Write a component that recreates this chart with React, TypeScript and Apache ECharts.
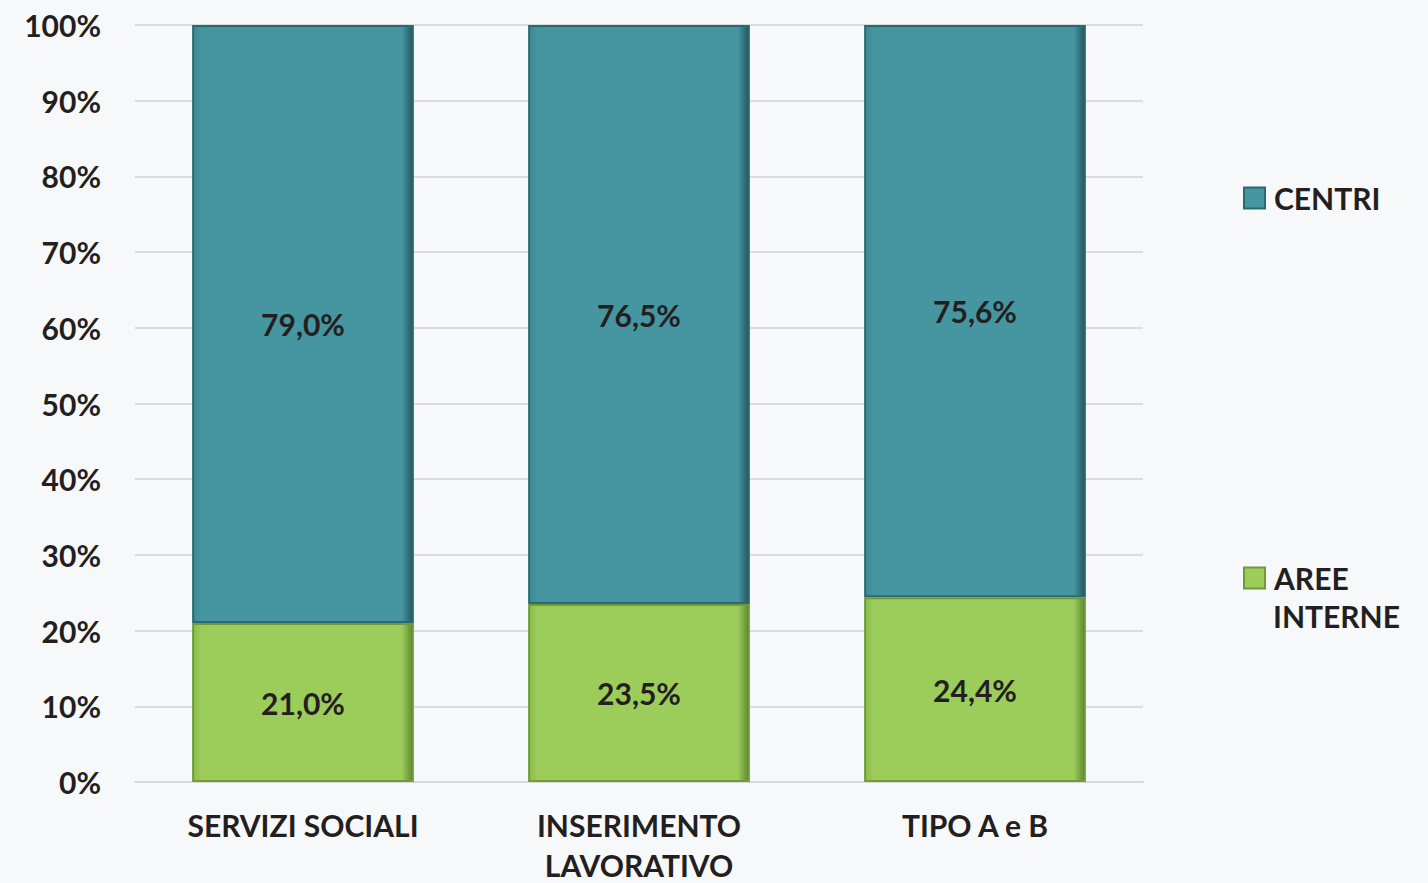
import React, { useEffect, useRef } from "react";
import * as echarts from "echarts";

const categories = ["SERVIZI SOCIALI", "INSERIMENTO\nLAVORATIVO", "TIPO A e B"];
const areeInterne = [21.0, 23.5, 24.4];
const centri = [79.0, 76.5, 75.6];
const yTicks = [0, 10, 20, 30, 40, 50, 60, 70, 80, 90, 100];

const FONT = "Lato";
const TEXT = "#231f20";
const FS = 30;

const fmt = (v: number) => v.toFixed(1).replace(".", ",") + "%";

const hGrad = (edge: string, mid: string, dark: string) =>
  new echarts.graphic.LinearGradient(0, 0, 1, 0, [
    { offset: 0, color: edge },
    { offset: 0.04, color: mid },
    { offset: 0.95, color: mid },
    { offset: 1, color: dark },
  ]);

export default function App() {
  const ref = useRef<HTMLDivElement>(null);
  useEffect(() => {
    if (!ref.current) return;
    const chart = echarts.init(ref.current, null, { renderer: "svg" });
    const labelStyle = {
      show: true,
      position: "inside",
      fontFamily: FONT,
      fontWeight: "bold",
      fontSize: FS,
      color: TEXT,
      formatter: (p: any) => fmt(p.value),
    };
    const legendText = { fontFamily: FONT, fontWeight: "bold", fontSize: FS, color: TEXT, padding: [0, 0, 0, 4] };
    chart.setOption({
      animation: false,
      backgroundColor: "#f7f8fa",
      textStyle: { fontFamily: FONT },
      grid: { left: 135, right: 285, top: 25, bottom: 101, containLabel: false, outerBoundsMode: "none" },
      legend: [
        {
          orient: "vertical",
          left: 1243,
          top: 183,
          padding: 0,
          itemWidth: 21,
          itemHeight: 21,
          icon: "rect",
          data: ["CENTRI"],
          textStyle: legendText,
        },
        {
          orient: "vertical",
          left: 1243,
          top: 563,
          padding: 0,
          itemWidth: 21,
          itemHeight: 21,
          icon: "rect",
          data: ["AREE INTERNE"],
          formatter: (n: string) => (n === "AREE INTERNE" ? "AREE" : n),
          textStyle: legendText,
        },
      ],
      graphic: [
        {
          type: "text",
          left: 1273,
          top: 601,
          style: { text: "INTERNE", fontFamily: FONT, fontWeight: "bold", fontSize: FS, fill: TEXT },
        },
      ],
      xAxis: {
        type: "category",
        data: categories,
        axisLine: { show: true, lineStyle: { color: "#d9d9d9", width: 2 } },
        axisTick: { show: false },
        axisLabel: {
          fontFamily: FONT,
          fontWeight: "bold",
          fontSize: FS,
          color: TEXT,
          margin: 23,
          lineHeight: 40,
          interval: 0,
        },
      },
      yAxis: {
        type: "value",
        min: 0,
        max: 100,
        interval: 10,
        axisLine: { show: false },
        axisTick: { show: false },
        splitLine: { lineStyle: { color: "#dcdcdc", width: 2 } },
        axisLabel: {
          fontFamily: FONT,
          fontWeight: "bold",
          fontSize: FS,
          color: TEXT,
          margin: 34,
          formatter: (v: number) => (yTicks.includes(v) ? v + "%" : ""),
        },
      },
      series: [
        {
          name: "AREE INTERNE",
          type: "bar",
          stack: "tot",
          data: areeInterne,
          barCategoryGap: "34%",
          itemStyle: {
            color: hGrad("#8cbd4c", "#9ccd5a", "#5f8430"),
            borderColor: "#6f9a3a",
            borderWidth: 2,
          },
          label: labelStyle,
        },
        {
          name: "CENTRI",
          type: "bar",
          stack: "tot",
          data: centri,
          barCategoryGap: "34%",
          itemStyle: {
            color: hGrad("#3b8893", "#4596a1", "#24565d"),
            borderColor: "#2c6a73",
            borderWidth: 2,
          },
          label: labelStyle,
        },
      ],
    });
    return () => chart.dispose();
  }, []);
  return <div ref={ref} style={{ width: 1428, height: 883, position: "absolute", left: 0, top: 0 }} />;
}
